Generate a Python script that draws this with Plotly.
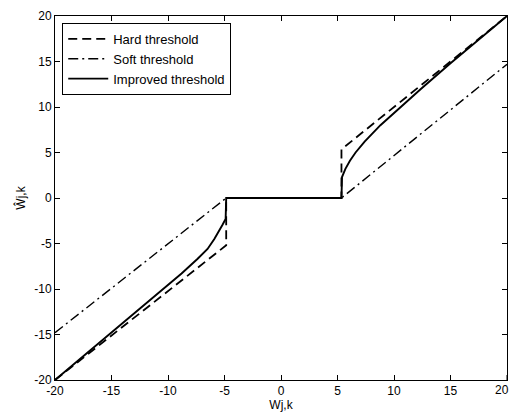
import plotly.graph_objects as go

# Hard threshold
hard_x = [-20, -4.85, -4.85, 5.35, 5.35, 20]
hard_y = [-20, -5.2, 0, 0, 5.35, 20]

# Soft threshold
soft_x = [-20, -4.85, 5.35, 20]
soft_y = [-14.8, 0, 0, 14.7]

# Improved threshold
imp_x = [-20, -17.5, -15, -12.4, -10.3, -8.8, -7.4, -6.5, -5.9, -5.5, -5.2, -4.9, -4.85,
         5.35, 5.4, 5.7, 6.1, 6.6, 7.4, 8.8, 10.3, 12.4, 15, 17.5, 20]
imp_y = [-20, -17.4, -14.8, -12.1, -9.9, -8.3, -6.7, -5.6, -4.5, -3.7, -3.0, -2.3, 0,
         0, 2.3, 3.2, 4.1, 5.0, 6.2, 8.0, 9.7, 12.0, 14.8, 17.4, 20]

xticks = [-20, -15, -10, -5, 0, 5, 10, 15]
yticks = [-20, -15, -10, -5, 0, 5, 10, 15, 20]

fig = go.Figure()
fig.add_trace(go.Scatter(x=hard_x, y=hard_y, mode="lines", name="Hard threshold",
                         line=dict(color="black", width=1.8, dash="9px,5px")))
fig.add_trace(go.Scatter(x=soft_x, y=soft_y, mode="lines", name="Soft threshold",
                         line=dict(color="black", width=1.4, dash="10px,4px,2px,4px")))
fig.add_trace(go.Scatter(x=imp_x, y=imp_y, mode="lines", name="Improved threshold",
                         line=dict(color="black", width=1.9)))

axis_common = dict(
    showgrid=False, zeroline=False, showline=True, linecolor="black", linewidth=1,
    mirror="ticks", ticks="inside", ticklen=5, tickcolor="black", tickwidth=1,
    tickfont=dict(family="Liberation Sans, Arial", size=12, color="black"),
)

fig.update_layout(
    width=511, height=414,
    margin=dict(l=55, r=4, t=16, b=34),
    paper_bgcolor="white", plot_bgcolor="white",
    font=dict(family="Liberation Sans, Arial", size=12, color="black"),
    showlegend=True,
    legend=dict(x=0.016, y=0.981, xanchor="left", yanchor="top",
                bordercolor="black", borderwidth=1, bgcolor="white",
                font=dict(size=13), tracegroupgap=0, itemwidth=40),
    xaxis=dict(range=[-20, 20], tickvals=xticks, ticktext=[str(v) for v in xticks],
               title=dict(text="Wj,k", standoff=2, font=dict(size=12)), **axis_common),
    yaxis=dict(range=[-20, 20], tickvals=yticks, ticktext=[str(v) for v in yticks],
               title=dict(text="Ŵj,k", standoff=6, font=dict(size=12)), **axis_common),
)

# tick at x=20 with its label kept inside the page
fig.add_shape(type="line", xref="x", yref="paper", x0=20, x1=20, y0=0, y1=5/364,
              line=dict(color="black", width=1))
fig.add_annotation(x=20, y=0, xref="x", yref="paper", text="20", showarrow=False,
                   xanchor="right", xshift=4, yanchor="top", yshift=-1,
                   font=dict(size=12, color="black"))

fig.write_html("out.html")
